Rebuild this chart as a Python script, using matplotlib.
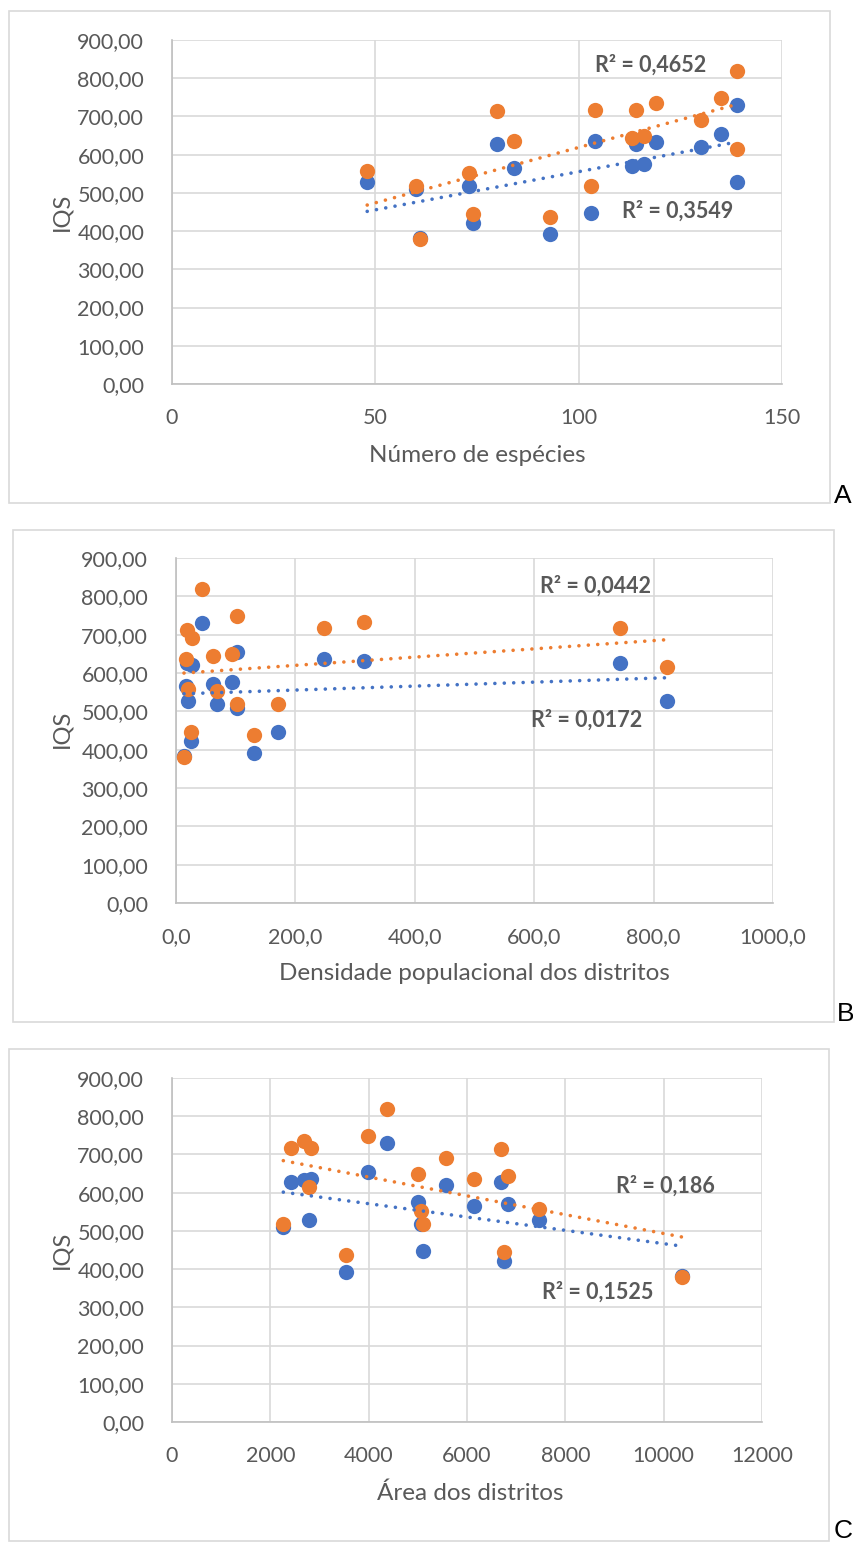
"""Three Excel-style scatter panels: IQS against species, density and area."""

import matplotlib

matplotlib.use("Agg", force=True)

import matplotlib.pyplot as plt
import matplotlib.patches as patches
import numpy as np
from matplotlib.ticker import FuncFormatter, MultipleLocator


W, H = 854, 1544

# one entry per district, same order in every array
species = [48, 60, 61, 73, 74, 80, 84, 93, 103, 104, 113, 114, 116, 119, 130, 135, 139, 139]
density = [20.0, 101.6, 13.4, 69.2, 25.0, 18.4, 17.3, 130.0, 171.4, 248.0,
           62.5, 744.0, 93.8, 315.0, 26.0, 103.0, 822.0, 43.0]
area = [7471, 2264, 10372, 5064, 6752, 6685, 6136, 3545, 5111, 2827,
        6827, 2414, 5010, 2685, 5579, 3980, 2793, 4373]
iqs_blue = [528, 510, 383, 518, 422, 627, 566, 392, 447, 636, 571, 627, 576, 632, 621, 654, 528, 731]
iqs_orange = [557, 518, 380, 553, 445, 713, 637, 437, 519, 717, 644, 717, 650, 734, 691, 749, 616, 820]

x_titles = ["Número de espécies", "Densidade populacional dos distritos", "Área dos distritos"]
r2_orange = ["R² = 0,4652", "R² = 0,0442", "R² = 0,186"]
r2_blue = ["R² = 0,3549", "R² = 0,0172", "R² = 0,1525"]
panel_letters = ["A", "B", "C"]

BLUE = "#4472C4"
ORANGE = "#ED7D31"
GRID = "#D9D9D9"
TEXT = "#595959"
FONT = "Lato"

plt.rcParams["font.family"] = [FONT, "DejaVu Sans"]

# pixel layout of each panel (box, plot area, labels)
panels = [
    dict(x=species, xmax=150, xstep=50, xfmt=lambda v, p: f"{v:.0f}",
         box=(9, 11, 830, 503), plot=(172, 40, 782, 384),
         ylab=(62, 212), xlab=(477, 455), r2o=(651, 65), r2b=(678, 211),
         letter=(843, 496)),
    dict(x=density, xmax=1000, xstep=200,
         xfmt=lambda v, p: f"{v:.1f}".replace(".", ","),
         box=(13, 530, 834, 1022), plot=(176, 558, 773, 903),
         ylab=(62, 729), xlab=(474, 973), r2o=(596, 586), r2b=(587, 720),
         letter=(846, 1014)),
    dict(x=area, xmax=12000, xstep=2000, xfmt=lambda v, p: f"{v:.0f}",
         box=(9, 1049, 829, 1541), plot=(172, 1078, 762, 1422),
         ylab=(62, 1250), xlab=(470, 1493), r2o=(665, 1186), r2b=(598, 1292),
         letter=(843, 1531)),
]


def fx(px):
    return px / W


def fy(py):
    return 1 - py / H


fig = plt.figure(figsize=(W / 100, H / 100), dpi=100, facecolor="white")

for i, p in enumerate(panels):
    # outer chart border
    bx0, by0, bx1, by1 = p["box"]
    fig.add_artist(patches.Rectangle(
        (fx(bx0), fy(by1)), fx(bx1 - bx0), (by1 - by0) / H,
        transform=fig.transFigure, facecolor="none", edgecolor=GRID, linewidth=1.2,
    ))

    x0, y0, x1, y1 = p["plot"]
    ax = fig.add_axes([fx(x0), fy(y1), fx(x1 - x0), (y1 - y0) / H])
    ax.set_xlim(0, p["xmax"])
    ax.set_ylim(0, 900)
    ax.xaxis.set_major_locator(MultipleLocator(p["xstep"]))
    ax.yaxis.set_major_locator(MultipleLocator(100))
    ax.xaxis.set_major_formatter(FuncFormatter(p["xfmt"]))
    ax.yaxis.set_major_formatter(FuncFormatter(lambda v, pos: f"{v:.2f}".replace(".", ",")))
    ax.grid(True, color=GRID, linewidth=1.2, zorder=0)
    ax.set_axisbelow(True)
    for side in ("top", "right"):
        ax.spines[side].set_visible(False)
    for side in ("left", "bottom"):
        ax.spines[side].set_color("#BFBFBF")
        ax.spines[side].set_linewidth(1.2)
    ax.tick_params(length=0, labelsize=15.5, labelcolor=TEXT)
    ax.tick_params(axis="x", pad=17)
    ax.tick_params(axis="y", pad=20)

    xs = np.array(p["x"], dtype=float)
    ax.plot(xs, iqs_blue, "o", color=BLUE, ms=11, mew=0, zorder=3, clip_on=False)
    ax.plot(xs, iqs_orange, "o", color=ORANGE, ms=11, mew=0, zorder=4, clip_on=False)

    # linear trendlines over the data range, like Excel
    xl = np.array([xs.min(), xs.max()])
    for ys, col in ((iqs_blue, BLUE), (iqs_orange, ORANGE)):
        k, b = np.polyfit(xs, ys, 1)
        ax.plot(xl, k * xl + b, color=col, linewidth=2.6,
                linestyle=(0, (0.01, 2.6)), dash_capstyle="round", zorder=5)

    fig.text(fx(p["ylab"][0]), fy(p["ylab"][1]), "IQS", rotation=90,
             ha="center", va="center", fontsize=17, color=TEXT)
    fig.text(fx(p["xlab"][0]), fy(p["xlab"][1]), x_titles[i],
             ha="center", va="center", fontsize=17.5, color=TEXT)
    fig.text(fx(p["r2o"][0]), fy(p["r2o"][1]), r2_orange[i],
             ha="center", va="center", fontsize=15.5, color=TEXT, fontweight="bold")
    fig.text(fx(p["r2b"][0]), fy(p["r2b"][1]), r2_blue[i],
             ha="center", va="center", fontsize=15.5, color=TEXT, fontweight="bold")
    fig.text(fx(p["letter"][0]), fy(p["letter"][1]), panel_letters[i],
             ha="center", va="center", fontsize=19, color="black",
             family=["Liberation Sans", "DejaVu Sans"])

fig.savefig("out.png", dpi=100, facecolor="white")
